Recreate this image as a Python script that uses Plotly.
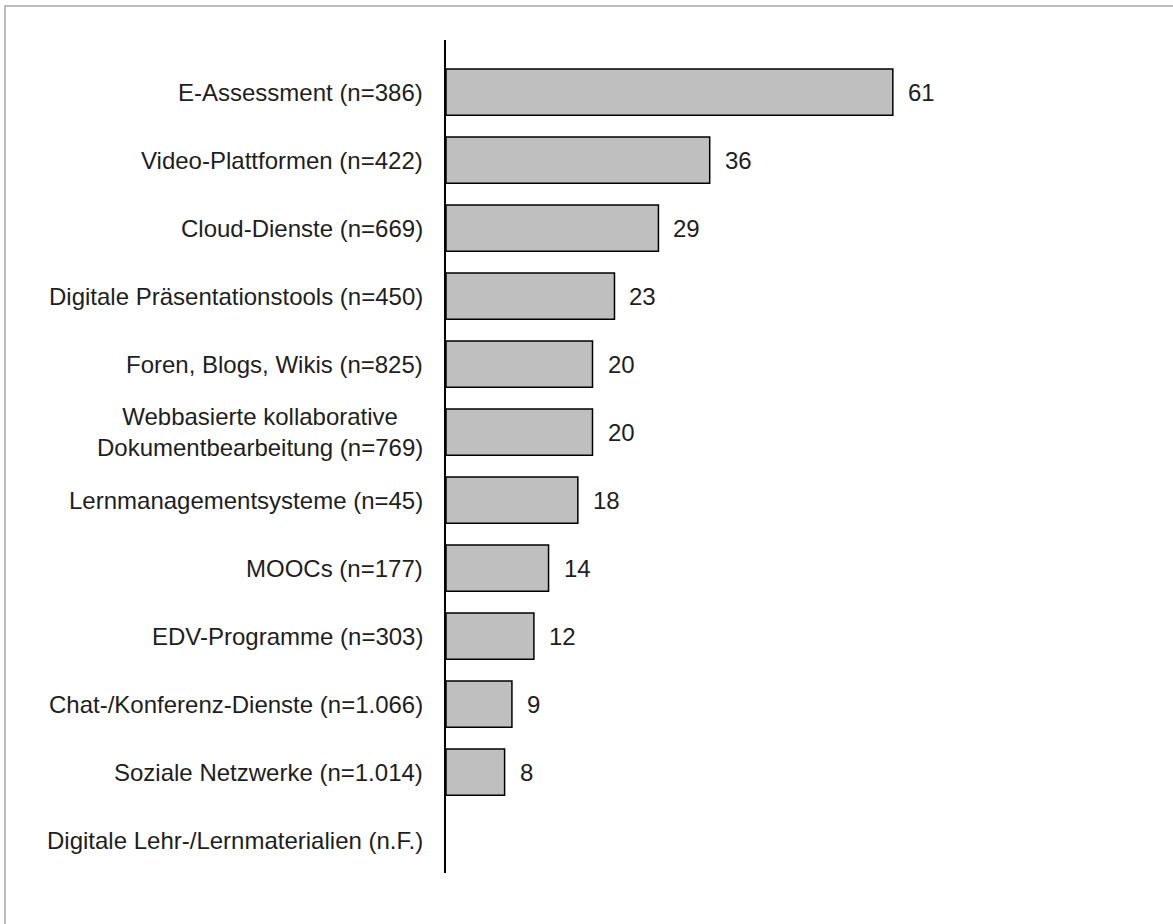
import plotly.graph_objects as go

categories = [
    "E-Assessment (n=386)",
    "Video-Plattformen (n=422)",
    "Cloud-Dienste (n=669)",
    "Digitale Präsentationstools (n=450)",
    "Foren, Blogs, Wikis (n=825)",
    "Webbasierte kollaborative<br>Dokumentbearbeitung (n=769)",
    "Lernmanagementsysteme (n=45)",
    "MOOCs (n=177)",
    "EDV-Programme (n=303)",
    "Chat-/Konferenz-Dienste (n=1.066)",
    "Soziale Netzwerke (n=1.014)",
    "Digitale Lehr-/Lernmaterialien (n.F.)",
]
values = [61, 36, 29, 23, 20, 20, 18, 14, 12, 9, 8, None]

W, H = 1173, 924
L, R, T, B = 446, 141, 40, 51
pw, ph = W - L - R, H - T - B
FONT = "Liberation Sans"
FS = 24
TXT = "#1e1e1e"

fig = go.Figure()
fig.add_trace(go.Bar(
    y=categories, x=values, orientation="h", width=0.68,
    marker=dict(color="#bfbfbf", line=dict(color="#000000", width=1.5)),
    hoverinfo="skip",
))

ann = []
for c, v in zip(categories, values):
    if v is not None:
        ann.append(dict(x=v, y=c, xref="x", yref="y", text=str(v), showarrow=False,
                        xanchor="left", xshift=13, font=dict(size=FS, color=TXT, family=FONT)))
    ann.append(dict(x=0, y=c, xref="paper", yref="y", text=c, showarrow=False,
                    xanchor="right", align="center", xshift=-21,
                    font=dict(size=FS, color=TXT, family=FONT)))

shapes = [dict(type="rect", xref="paper", yref="paper",
               x0=(5 - L) / pw, x1=(W + 40 - L) / pw,
               y0=(ph - (H + 40 - T)) / ph, y1=(ph - (6 - T)) / ph,
               line=dict(color="#a6a6a6", width=1.5), fillcolor="rgba(0,0,0,0)", layer="below")]

fig.update_layout(
    width=W, height=H,
    margin=dict(l=L, r=R, t=T, b=B),
    paper_bgcolor="white", plot_bgcolor="white",
    showlegend=False,
    annotations=ann, shapes=shapes,
    font=dict(family=FONT, size=FS, color=TXT),
    xaxis=dict(range=[0, 80], visible=False, fixedrange=True),
    yaxis=dict(type="category", range=[11.485, -0.765], showticklabels=False,
               showline=True, linecolor="black", linewidth=1.5, ticks="",
               showgrid=False, zeroline=False, fixedrange=True),
)
fig.write_html("out.html", config={"displayModeBar": False},
               post_script="document.body.style.margin='0';")
